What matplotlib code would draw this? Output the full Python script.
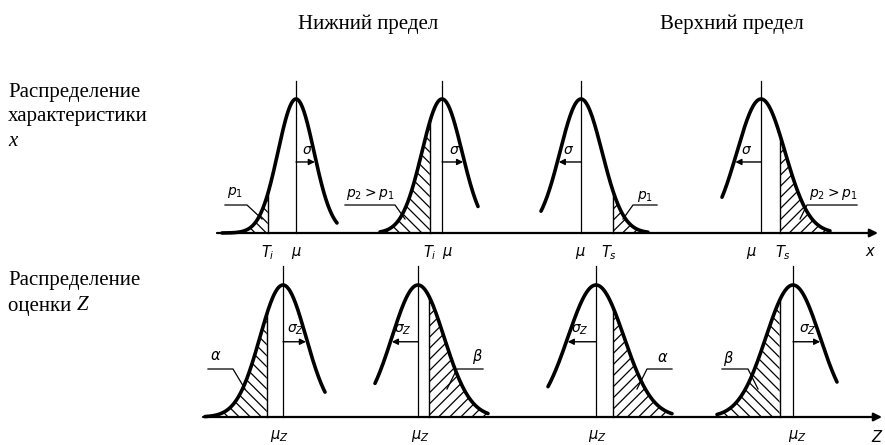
import numpy as np
import matplotlib
matplotlib.use("Agg")
import matplotlib.pyplot as plt

plt.rcParams['font.family'] = ['Liberation Serif', 'DejaVu Serif']
plt.rcParams['mathtext.fontset'] = 'dejavusans'
plt.rcParams['hatch.linewidth'] = 0.9

# ---- data (diagram units: horizontal position of each distribution) ----
# Row 1: distribution of characteristic x
mu_x = [296, 442, 581, 761]          # means
sigma_x = [18, 20, 21, 24]           # standard deviations
limit_x = [268, 430, 613, 780]       # T_i, T_i, T_s, T_s
start_x = [222, 380, 541, 722]       # drawn extent of each curve
end_x = [337, 478, 648, 830]
shade_x = ['left', 'left', 'right', 'right']
limit_lbl_x = [r'$T_i$', r'$T_i$', r'$T_s$', r'$T_s$']
prob_lbl_x = [r'$p_1$', r'$p_2 > p_1$', r'$p_1$', r'$p_2 > p_1$']
sig_dir_x = [1, 1, -1, -1]

# Row 2: distribution of the estimate Z
mu_z = [283, 418, 596, 793]
sigma_z = [23, 26, 28, 27]
crit_z = [267, 429, 613, 780]
start_z = [205, 375, 548, 717]
end_z = [325, 488, 672, 837]
shade_z = ['left', 'right', 'right', 'left']
prob_lbl_z = [r'$\alpha$', r'$\beta$', r'$\alpha$', r'$\beta$']
sig_dir_z = [1, -1, -1, 1]

headers = ['Нижний предел', 'Верхний предел']

# ---- layout ----
W, H = 885, 445
fig = plt.figure(figsize=(W / 100, H / 100), dpi=100)
ax = fig.add_axes([0, 0, 1, 1])
ax.set_xlim(0, W)
ax.set_ylim(H, 0)
ax.axis('off')

base = [233, 417]
amp = [134, 132]
vtop = [81, 266]
arrow_lvl = [0.53, 0.57]
hatches = {0: ['\\\\\\', '\\\\\\', '///', '///'], 1: ['\\\\\\', '///', '///', '\\\\\\']}

rows = [
    (mu_x, sigma_x, limit_x, start_x, end_x, shade_x, sig_dir_x, r'\sigma'),
    (mu_z, sigma_z, crit_z, start_z, end_z, shade_z, sig_dir_z, r'\sigma_Z'),
]

for r, (mus, sigs, lims, sts, ens, shades, sdirs, slab) in enumerate(rows):
    b, a = base[r], amp[r]
    for i in range(4):
        mu, s, T = mus[i], sigs[i], lims[i]
        xs = np.linspace(sts[i], ens[i], 300)
        ys = b - a * np.exp(-0.5 * ((xs - mu) / s) ** 2)
        # hatched tail
        if shades[i] == 'left':
            m = xs <= T
        else:
            m = xs >= T
        ax.fill_between(xs[m], ys[m], b, facecolor='none', edgecolor='black',
                        hatch=hatches[r][i], linewidth=0, zorder=2)
        yT = b - a * np.exp(-0.5 * ((T - mu) / s) ** 2)
        ax.plot([T, T], [b, yT], color='black', lw=1.0, zorder=3)
        # curve
        ax.plot(xs, ys, color='black', lw=2.6, solid_capstyle='round', zorder=4)
        # mean line
        ax.plot([mu, mu], [b, vtop[r]], color='black', lw=0.9, zorder=3)
        # sigma arrow (to the curve)
        d = sdirs[i]
        lv = arrow_lvl[r]
        ya = b - a * lv
        xe = mu + d * s * np.sqrt(-2 * np.log(lv))
        ax.annotate('', xy=(xe, ya), xytext=(mu, ya),
                    arrowprops=dict(arrowstyle='-|>', color='black', lw=1.0,
                                    mutation_scale=9, shrinkA=0, shrinkB=1),
                    zorder=5)
        ax.text((mu + xe) / 2 + d, ya - 5, '$' + slab + '$',
                ha='center', va='bottom', fontsize=10, zorder=6)

# axes lines with arrows
ax.annotate('', xy=(878, base[0]), xytext=(217, base[0]),
            arrowprops=dict(arrowstyle='-|>', color='black', lw=1.6,
                            mutation_scale=12, shrinkA=0, shrinkB=0))
ax.annotate('', xy=(882, base[1]), xytext=(203, base[1]),
            arrowprops=dict(arrowstyle='-|>', color='black', lw=1.6,
                            mutation_scale=12, shrinkA=0, shrinkB=0))
ax.text(871, 253, '$x$', ha='center', va='center', fontsize=10.5)
ax.text(884, 437, '$Z$', ha='right', va='center', fontsize=10.5)

# limit / mean labels, row 1
mu_lbl_off = [0, 5, -1, -10]
lim_lbl_off = [0, 0, -4, 3]
for i in range(4):
    ax.text(mu_x[i] + mu_lbl_off[i], 253, r'$\mu$', ha='center', va='center', fontsize=10.5)
    ax.text(limit_x[i] + lim_lbl_off[i], 253, limit_lbl_x[i], ha='center', va='center', fontsize=10.5)
# mean labels, row 2
for i in range(4):
    ax.text(mu_z[i] + (-4, 2, 1, 4)[i], 436, r'$\mu_Z$', ha='center', va='center', fontsize=10.5)

# probability labels with leaders
leaders_x = [
    ([262, 247, 225], 235, 192),
    ([405, 395, 345], 370, 194),
    ([623, 633, 657], 645, 196),
    ([800, 807, 857], 833, 194),
]
for (lx, tx, ty), lab in zip(leaders_x, prob_lbl_x):
    ax.plot(lx, [219, 205, 205], color='black', lw=0.9, zorder=6)
    ax.text(tx, ty, lab, ha='center', va='center', fontsize=10)

leaders_z = [
    ([245, 233, 208], 216, 357),
    ([447, 457, 483], 477, 356),
    ([637, 647, 672], 663, 358),
    ([758, 748, 722], 728, 358),
]
for (lx, tx, ty), lab in zip(leaders_z, prob_lbl_z):
    ax.plot(lx, [389, 369, 369], color='black', lw=0.9, zorder=6)
    ax.text(tx, ty, lab, ha='center', va='center', fontsize=10.5)

# headers
fs = 15
ax.text(368, 24, headers[0], ha='center', va='center', fontsize=fs)
ax.text(732, 24, headers[1], ha='center', va='center', fontsize=fs)

# row labels
ax.text(8, 92, 'Распределение', ha='left', va='center', fontsize=fs)
ax.text(8, 117, 'характеристики', ha='left', va='center', fontsize=fs)
ax.text(8, 142, 'x', ha='left', va='center', fontsize=fs, style='italic')
ax.text(8, 281, 'Распределение', ha='left', va='center', fontsize=fs)
t = ax.text(8, 306, 'оценки ', ha='left', va='center', fontsize=fs)
ax.annotate('Z', xy=(1, 0.5), xycoords=t, ha='left', va='center',
            fontsize=fs, style='italic')

fig.savefig('out.png', dpi=100)
